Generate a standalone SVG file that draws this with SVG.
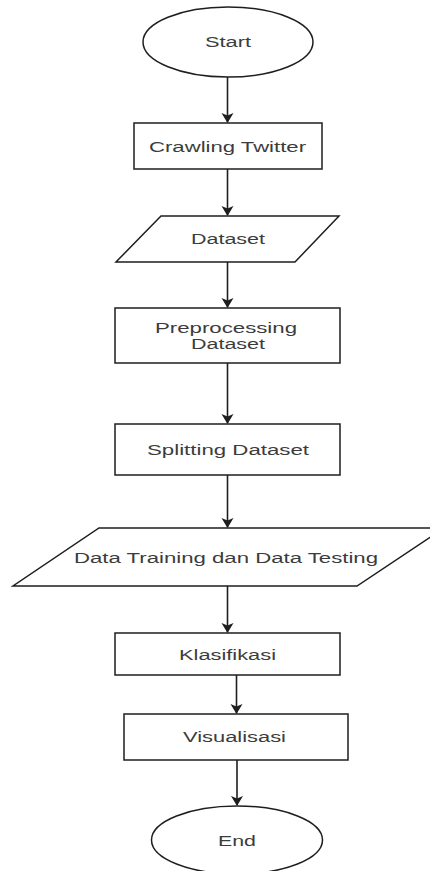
<svg xmlns="http://www.w3.org/2000/svg" width="430" height="871" viewBox="0 0 430 871">
  <style>
    .shape { fill: #ffffff; stroke: #1e1e1e; stroke-width: 1.5; }
    .edge { fill: none; stroke: #1e1e1e; stroke-width: 1.6; }
    .label { font-family: "Liberation Sans", Arial, sans-serif; font-size: 15.5px; fill: #3c3c3c; }
  </style>
  <defs>
    <marker id="arrow" markerWidth="13" markerHeight="13" refX="9" refY="6" orient="auto" markerUnits="userSpaceOnUse">
      <path d="M0,0 L10,6 L0,12 L2.5,6 Z" fill="#1e1e1e"/>
    </marker>
  </defs>
  <rect width="430" height="871" fill="#ffffff"/>

  <g id="connectors">
    <line class="edge" x1="227.5" y1="77" x2="227.5" y2="122" marker-end="url(#arrow)"/>
    <line class="edge" x1="227.5" y1="169" x2="227.5" y2="215" marker-end="url(#arrow)"/>
    <line class="edge" x1="227.5" y1="262" x2="227.5" y2="307" marker-end="url(#arrow)"/>
    <line class="edge" x1="227.5" y1="363" x2="227.5" y2="423" marker-end="url(#arrow)"/>
    <line class="edge" x1="227.5" y1="475" x2="227.5" y2="527" marker-end="url(#arrow)"/>
    <line class="edge" x1="227.5" y1="586" x2="227.5" y2="632" marker-end="url(#arrow)"/>
    <line class="edge" x1="236.5" y1="675" x2="236.5" y2="713" marker-end="url(#arrow)"/>
    <line class="edge" x1="237" y1="760" x2="237" y2="805" marker-end="url(#arrow)"/>
  </g>

  <g id="start">
    <ellipse class="shape" cx="228" cy="42" rx="85" ry="35"/>
    <text class="label" x="205" y="47" textLength="46" lengthAdjust="spacingAndGlyphs">Start</text>
  </g>

  <g id="crawling">
    <rect class="shape" x="134" y="123" width="188" height="46"/>
    <text class="label" x="149" y="151.5" textLength="157" lengthAdjust="spacingAndGlyphs">Crawling Twitter</text>
  </g>

  <g id="dataset">
    <polygon class="shape" points="161,216 339,216 295,262 116,262"/>
    <text class="label" x="191" y="243.5" textLength="74" lengthAdjust="spacingAndGlyphs">Dataset</text>
  </g>

  <g id="preprocessing">
    <rect class="shape" x="115" y="308" width="225" height="55"/>
    <text class="label" x="155" y="333" textLength="142" lengthAdjust="spacingAndGlyphs">Preprocessing</text>
    <text class="label" x="191" y="349" textLength="74" lengthAdjust="spacingAndGlyphs">Dataset</text>
  </g>

  <g id="splitting">
    <rect class="shape" x="115" y="424" width="225" height="51"/>
    <text class="label" x="147" y="454.5" textLength="162" lengthAdjust="spacingAndGlyphs">Splitting Dataset</text>
  </g>

  <g id="training-testing">
    <polygon class="shape" points="99,528 444,528 357,586 13,586"/>
    <text class="label" x="74" y="563" textLength="304" lengthAdjust="spacingAndGlyphs">Data Training dan Data Testing</text>
  </g>

  <g id="klasifikasi">
    <rect class="shape" x="115" y="633" width="225" height="42"/>
    <text class="label" x="179" y="660" textLength="97" lengthAdjust="spacingAndGlyphs">Klasifikasi</text>
  </g>

  <g id="visualisasi">
    <rect class="shape" x="124" y="714" width="224" height="46"/>
    <text class="label" x="183" y="742" textLength="103" lengthAdjust="spacingAndGlyphs">Visualisasi</text>
  </g>

  <g id="end">
    <ellipse class="shape" cx="237" cy="840" rx="85.5" ry="34"/>
    <text class="label" x="218" y="846" textLength="38" lengthAdjust="spacingAndGlyphs">End</text>
  </g>
</svg>
